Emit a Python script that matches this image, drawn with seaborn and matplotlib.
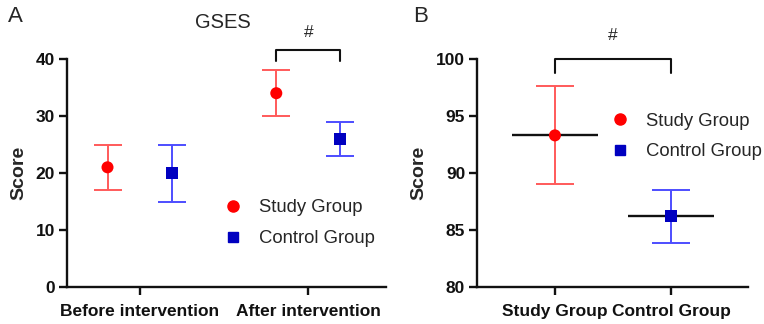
import numpy as np
import pandas as pd
import matplotlib
matplotlib.use("Agg")
import matplotlib.pyplot as plt
import seaborn as sns

# ---- data ----
a_categories = ["Before intervention", "After intervention"]
a_study_mean = [21, 34]
a_study_low = [17, 30]
a_study_high = [25, 38]
a_control_mean = [20, 26]
a_control_low = [15, 23]
a_control_high = [25, 29]
a_yticks = [0, 10, 20, 30, 40]

b_categories = ["Study Group", "Control Group"]
b_mean = [93.3, 86.2]
b_low = [89.0, 83.9]
b_high = [97.6, 88.5]
b_yticks = [80, 85, 90, 95, 100]

groups = ["Study Group", "Control Group"]

sns.set_theme(style="ticks")
plt.rcParams['font.family'] = ['Liberation Sans', 'DejaVu Sans']

RED = "#ff0000"
RED_E = "#ff5a5a"
BLUE = "#0000c0"
BLUE_E = "#4d4dff"

fig = plt.figure(figsize=(7.64, 3.24), dpi=100)
axA = fig.add_axes([67/764, 1-287/324, (386-67)/764, (287-59)/324])
axB = fig.add_axes([477/764, 1-287/324, (748-477)/764, (287-59)/324])

def style_axis(ax):
    for s in ["top", "right"]:
        ax.spines[s].set_visible(False)
    for s in ["left", "bottom"]:
        ax.spines[s].set_linewidth(1.7)
        ax.spines[s].set_color("#111111")
    ax.tick_params(axis="both", direction="out", length=5.5, width=1.7, colors="#111111",
                   labelsize=12.5)
    ax.tick_params(axis="y", pad=3)
    ax.tick_params(axis="x", pad=6.5)
    for lab in ax.get_xticklabels() + ax.get_yticklabels():
        lab.set_fontweight("bold")

# ---- Panel A ----
off = 0.19
xs = np.arange(len(a_categories))
dfA = pd.DataFrame({
    "x": np.concatenate([xs - off, xs + off]),
    "Score": a_study_mean + a_control_mean,
    "group": [groups[0]] * 2 + [groups[1]] * 2,
})
sm = np.array(a_study_mean); cm = np.array(a_control_mean)
axA.errorbar(xs - off, sm, yerr=[sm - np.array(a_study_low), np.array(a_study_high) - sm],
             fmt="none", ecolor=RED_E, elinewidth=1.4, capsize=10, capthick=1.4, zorder=2)
axA.errorbar(xs + off, cm, yerr=[cm - np.array(a_control_low), np.array(a_control_high) - cm],
             fmt="none", ecolor=BLUE_E, elinewidth=1.4, capsize=10, capthick=1.4, zorder=2)
sns.scatterplot(data=dfA, x="x", y="Score", hue="group", style="group",
                markers={groups[0]: "o", groups[1]: "s"},
                palette={groups[0]: RED, groups[1]: BLUE},
                s=75, edgecolor="none", ax=axA, zorder=3, legend=False)
axA.set_xlim(-0.43, 1.46)
axA.set_ylim(0, 40)
axA.set_yticks(a_yticks)
axA.set_xticks(xs)
axA.set_xticklabels(a_categories)
axA.set_xlabel("")
axA.set_ylabel("Score", fontsize=14, fontweight="bold", labelpad=6)
style_axis(axA)
# bracket
axA.plot([1 - off, 1 - off, 1 + off, 1 + off], [39.7, 41.6, 41.6, 39.7], color="#111111",
         lw=1.5, clip_on=False)
axA.text(1, 44.6, "#", ha="center", va="center", fontsize=12.5)
axA.text(0.49, (287-22)/228, "GSES", transform=axA.transAxes, ha="center", va="center", fontsize=14.5)
fig.text(8/764, 1-17/324, "A", ha="left", va="center", fontsize=16)
# legend
hA = [plt.Line2D([], [], marker="o", color=RED, ls="none", markersize=8),
      plt.Line2D([], [], marker="s", color=BLUE, ls="none", markersize=7)]
axA.legend(hA, groups, loc="center left", bbox_to_anchor=(0.41, 0.28), frameon=False,
           fontsize=13.3, handletextpad=0.4, labelspacing=0.75)

# ---- Panel B ----
xb = np.arange(len(b_categories))
dfB = pd.DataFrame({"x": xb, "Score": b_mean, "group": groups})
bm = np.array(b_mean)
for i, ce in enumerate([RED_E, BLUE_E]):
    axB.errorbar([xb[i]], [bm[i]], yerr=[[bm[i] - b_low[i]], [b_high[i] - bm[i]]],
                 fmt="none", ecolor=ce, elinewidth=1.4, capsize=14, capthick=1.4, zorder=2)
    axB.hlines(bm[i], xb[i] - 0.37, xb[i] + 0.37, color="#111111", lw=1.7, zorder=2.5)
sns.scatterplot(data=dfB, x="x", y="Score", hue="group", style="group",
                markers={groups[0]: "o", groups[1]: "s"},
                palette={groups[0]: RED, groups[1]: BLUE},
                s=75, edgecolor="none", ax=axB, zorder=3, legend=False)
axB.set_xlim(-0.67, 1.66)
axB.set_ylim(80, 100)
axB.set_yticks(b_yticks)
axB.set_xticks(xb)
axB.set_xticklabels(b_categories)
axB.set_xlabel("")
axB.set_ylabel("Score", fontsize=14, fontweight="bold", labelpad=6)
style_axis(axB)
axB.plot([0, 0, 1, 1], [98.8, 100, 100, 98.8], color="#111111", lw=1.5, clip_on=False)
axB.text(0.5, 102.1, "#", ha="center", va="center", fontsize=12.5)
fig.text(413/764, 1-17/324, "B", ha="left", va="center", fontsize=16)
hB = [plt.Line2D([], [], marker="o", color=RED, ls="none", markersize=8),
      plt.Line2D([], [], marker="s", color=BLUE, ls="none", markersize=7)]
axB.legend(hB, groups, loc="center left", bbox_to_anchor=(0.40, 0.66), frameon=False,
           fontsize=13.3, handletextpad=0.4, labelspacing=0.75)

fig.savefig("out.png", dpi=100)
